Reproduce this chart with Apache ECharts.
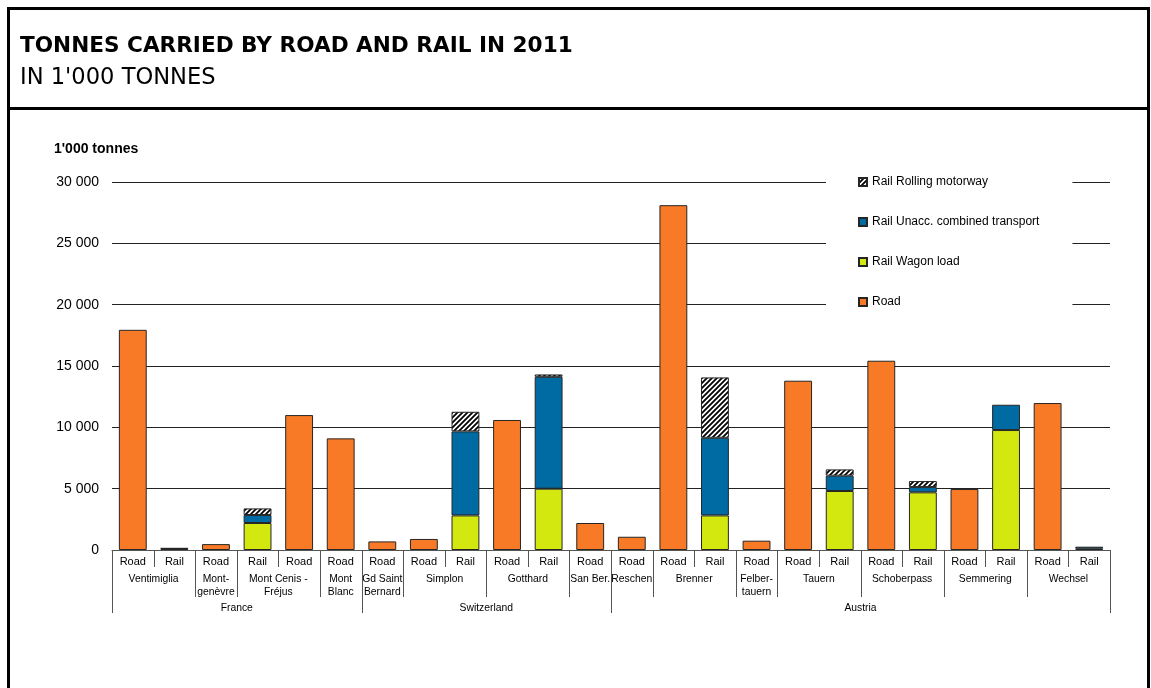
<!DOCTYPE html>
<html>
<head>
<meta charset="utf-8">
<script src="https://cdn.jsdelivr.net/npm/echarts@6/dist/echarts.min.js"></script>
<style>
  html, body { margin: 0; padding: 0; background: #fff; }
  #chart { width: 1151px; height: 688px; }
</style>
</head>
<body>
<div id="chart"></div>
<script>
// Transport mode of each bar, left to right
const modes = ['Road','Rail','Road','Rail','Road','Road','Road','Road','Rail','Road','Rail','Road',
               'Road','Road','Rail','Road','Road','Rail','Road','Rail','Road','Rail','Road','Rail'];

// Alpine crossings and how many bars each one spans
const passNames = ['Ventimiglia','Mont-\ngenèvre','Mont Cenis -\nFréjus','Mont\nBlanc',
                   'Gd Saint\nBernard','Simplon','Gotthard','San Ber.',
                   'Reschen','Brenner','Felber-\ntauern','Tauern','Schoberpass','Semmering','Wechsel'];
const passSpans = [2,1,2,1, 1,2,2,1, 1,2,1,2,2,2,2];

// Countries and how many bars each one spans
const countryNames = ['France','Switzerland','Austria'];
const countrySpans = [6,6,12];

// 1'000 tonnes, 2011
const road            = [17950,null,480,null,11000,9100,700,900,null,10600,null,2200,
                         1080,28110,null,760,13800,null,15430,null,4970,null,11980,null];
const wagonLoad       = [null,110,null,2200,null,null,null,null,2820,null,5000,null,
                         null,null,2820,null,null,4810,null,4700,null,9780,null,100];
const unaccompanied   = [null,40,null,650,null,null,null,null,6850,null,9120,null,
                         null,null,6330,null,null,1250,null,430,null,2060,null,170];
const rollingMotorway = [null,null,null,540,null,null,null,null,1600,null,190,null,
                         null,null,4920,null,null,510,null,490,null,null,null,null];

// Y axis ticks
const yTicks = { min: 0, max: 30000, interval: 5000 };

// Diagonal hatch used for the rolling motorway segments
function hatchPattern() {
  const s = 5;
  const c = document.createElement('canvas');
  c.width = s; c.height = s;
  const g = c.getContext('2d');
  g.fillStyle = '#fff';
  g.fillRect(0, 0, s, s);
  g.strokeStyle = '#000';
  g.lineWidth = 1.8;
  g.beginPath();
  g.moveTo(-1, s + 1); g.lineTo(s + 1, -1);
  g.moveTo(-2, 2); g.lineTo(2, -2);
  g.moveTo(s - 2, s + 2); g.lineTo(s + 2, s - 2);
  g.stroke();
  return c;
}

// Group rows under the category axis: level 0 = crossings, level 1 = countries
const groups = [];
(function () {
  let i = 0;
  passNames.forEach((n, k) => { groups.push({ start: i, span: passSpans[k], level: 0, label: n }); i += passSpans[k]; });
  i = 0;
  countryNames.forEach((n, k) => { groups.push({ start: i, span: countrySpans[k], level: 1, label: n }); i += countrySpans[k]; });
})();

const sepColor = '#555';
const labelFont = 'Liberation Sans';

// Horizontally condensed label text so long crossing names fit their slot
function groupLabel(text, cx, top) {
  return {
    type: 'text',
    x: cx,
    y: top,
    scaleX: 0.9,
    style: { text: text, x: 0, y: 0, align: 'center', verticalAlign: 'top',
             fontSize: 11.5, fontFamily: labelFont, lineHeight: 13, fill: '#000' }
  };
}

function renderGroup(params, api) {
  const g = groups[params.dataIndex];
  const start = api.value(0), span = api.value(1), level = api.value(2);
  const bw = api.size([1, 0])[0];
  const p = api.coord([start, 0]);
  const x0 = p[0] - bw / 2;
  const x1 = x0 + span * bw;
  const y0 = Math.round(p[1]);
  const crisp = v => Math.round(v) + 0.5;
  const children = [];
  const vline = (x, len) => children.push({
    type: 'line',
    shape: { x1: crisp(x), y1: y0, x2: crisp(x), y2: y0 + len },
    style: { stroke: sepColor, lineWidth: 1 }
  });
  if (level === 0) {
    for (let k = 1; k < span; k++) vline(x0 + k * bw, 17);
    vline(x0, 47);
    vline(x1, 47);
    children.push(groupLabel(g.label, (x0 + x1) / 2, y0 + 22));
  } else {
    vline(x0, 63);
    vline(x1, 63);
    children.push(groupLabel(g.label, (x0 + x1) / 2, y0 + 51));
  }
  return { type: 'group', children: children };
}

const barBorder = { borderColor: '#262626', borderWidth: 1 };

function barSeries(name, data, color) {
  return {
    name: name,
    type: 'bar',
    stack: 'total',
    barWidth: '67%',
    data: data,
    itemStyle: Object.assign({ color: color }, barBorder),
    emphasis: { disabled: true }
  };
}

const chart = echarts.init(document.getElementById('chart'), null, { renderer: 'canvas' });

chart.setOption({
  animation: false,
  backgroundColor: '#fff',
  title: [
    { text: 'TONNES CARRIED BY ROAD AND RAIL IN 2011', left: 20, top: 35, padding: 0,
      textStyle: { fontFamily: 'DejaVu Sans', fontWeight: 'bold', fontSize: 21.6, color: '#000' } },
    { text: "IN 1'000 TONNES", left: 20, top: 67, padding: 0,
      textStyle: { fontFamily: 'DejaVu Sans', fontWeight: 'normal', fontSize: 22.6, color: '#000' } },
    { text: "1'000 tonnes", left: 54, top: 142, padding: 0,
      textStyle: { fontFamily: 'Liberation Sans', fontWeight: 'bold', fontSize: 14, color: '#000' } }
  ],
  graphic: [
    { type: 'rect', shape: { x: 8.5, y: 8.5, width: 1140, height: 700 },
      style: { fill: 'none', stroke: '#000', lineWidth: 3 }, silent: true },
    { type: 'line', shape: { x1: 7, y1: 108.5, x2: 1150, y2: 108.5 },
      style: { stroke: '#000', lineWidth: 3 }, silent: true }
  ],
  legend: {
    orient: 'vertical',
    left: 826,
    top: 170,
    padding: [5, 33, 5, 32],
    backgroundColor: '#fff',
    itemWidth: 8,
    itemHeight: 8,
    itemGap: 26,
    icon: 'rect',
    selectedMode: false,
    textStyle: { fontFamily: 'Liberation Sans', fontSize: 12, color: '#000', lineHeight: 14 },
    data: ['Rail Rolling motorway', 'Rail Unacc. combined transport', 'Rail Wagon load', 'Road']
  },
  grid: { left: 112, right: 41, top: 182, bottom: 138 },
  xAxis: {
    type: 'category',
    data: modes,
    axisLine: { lineStyle: { color: sepColor, width: 1 } },
    axisTick: { show: false },
    axisLabel: { interval: 0, margin: 6, fontFamily: labelFont, fontSize: 11, color: '#000' }
  },
  yAxis: {
    type: 'value',
    min: yTicks.min,
    max: yTicks.max,
    interval: yTicks.interval,
    axisLine: { show: false },
    axisTick: { show: false },
    splitLine: { lineStyle: { color: '#222', width: 1 } },
    axisLabel: {
      margin: 13, fontFamily: 'Liberation Sans', fontSize: 14, color: '#000',
      formatter: v => String(v).replace(/\B(?=(\d{3})+(?!\d))/g, ' ')
    }
  },
  series: [
    barSeries('Road', road, '#F97A26'),
    barSeries('Rail Wagon load', wagonLoad, '#D3E80F'),
    barSeries('Rail Unacc. combined transport', unaccompanied, '#006BA3'),
    barSeries('Rail Rolling motorway', rollingMotorway, { image: hatchPattern(), repeat: 'repeat' }),
    {
      type: 'custom',
      silent: true,
      clip: false,
      renderItem: renderGroup,
      encode: { x: 0, y: 1 },
      data: groups.map(g => [g.start, g.span, g.level]),
      z: 10
    }
  ]
});
</script>
</body>
</html>
